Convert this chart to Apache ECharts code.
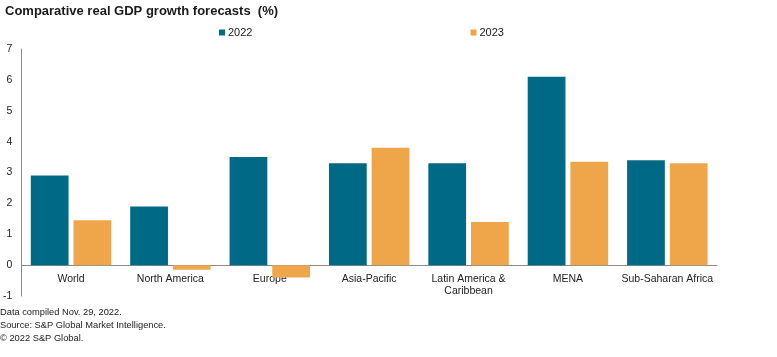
<!DOCTYPE html>
<html><head><meta charset="utf-8">
<script src="https://cdn.jsdelivr.net/npm/echarts@6/dist/echarts.min.js"></script>
<style>html,body{margin:0;padding:0;background:#fff}#c{width:777px;height:357px}</style>
</head><body><div id="c"></div>
<script>
var categories = ['World', 'North America', 'Europe', 'Asia-Pacific', 'Latin America &\nCaribbean', 'MENA', 'Sub-Saharan Africa'];
var values2022 = [2.9, 1.9, 3.5, 3.3, 3.3, 6.1, 3.4];
var values2023 = [1.45, -0.15, -0.4, 3.8, 1.4, 3.35, 3.3];
var yTicks = { min: -1, max: 7, interval: 1 };
var footer = ['Data compiled Nov. 29, 2022.', 'Source: S&P Global Market Intelligence.', '\u00A9 2022 S&P Global.'];

var chart = echarts.init(document.getElementById('c'), null, { renderer: 'canvas' });
var font = 'Liberation Sans, Arial, sans-serif';
chart.setOption({
  animation: false,
  textStyle: { fontFamily: font },
  title: { text: 'Comparative real GDP growth forecasts  (%)', left: 0, top: 0,
    textStyle: { fontSize: 13, fontWeight: 'bold', color: '#1a1a1a', fontFamily: font } },
  legend: { left: 214, top: 22, itemWidth: 6, itemHeight: 6, itemGap: 218, icon: 'rect',
    textStyle: { fontSize: 11, color: '#222', padding: [0, 0, 0, -2] },
    data: ['2022', '2023'] },
  grid: { left: 21, right: 60, top: 49, bottom: 61, containLabel: false },
  xAxis: { type: 'category', data: categories,
    axisLine: { onZero: true, lineStyle: { color: '#8c8c8c', width: 1 } },
    axisTick: { show: false },
    axisLabel: { fontSize: 10.5, color: '#222', margin: -23, interval: 0, lineHeight: 12, verticalAlign: 'top' } },
  yAxis: { type: 'value', min: yTicks.min, max: yTicks.max, interval: yTicks.interval,
    splitLine: { show: false },
    axisLine: { show: true, lineStyle: { color: '#8c8c8c', width: 1 } },
    axisTick: { show: false },
    axisLabel: { fontSize: 10.5, color: '#222', margin: 9 } },
  series: [
    { name: '2022', type: 'bar', data: values2022, barWidth: '38%', barGap: '13%',
      itemStyle: { color: '#006A86' } },
    { name: '2023', type: 'bar', data: values2023, barWidth: '38%', barGap: '13%',
      itemStyle: { color: '#EFA64B' } }
  ],
  graphic: footer.map(function (t, i) {
    return { type: 'text', left: 0, top: 308 + i * 13,
      style: { text: t, fontSize: 9.3, fill: '#222', font: '9.3px ' + font } };
  })
});
</script></body></html>
